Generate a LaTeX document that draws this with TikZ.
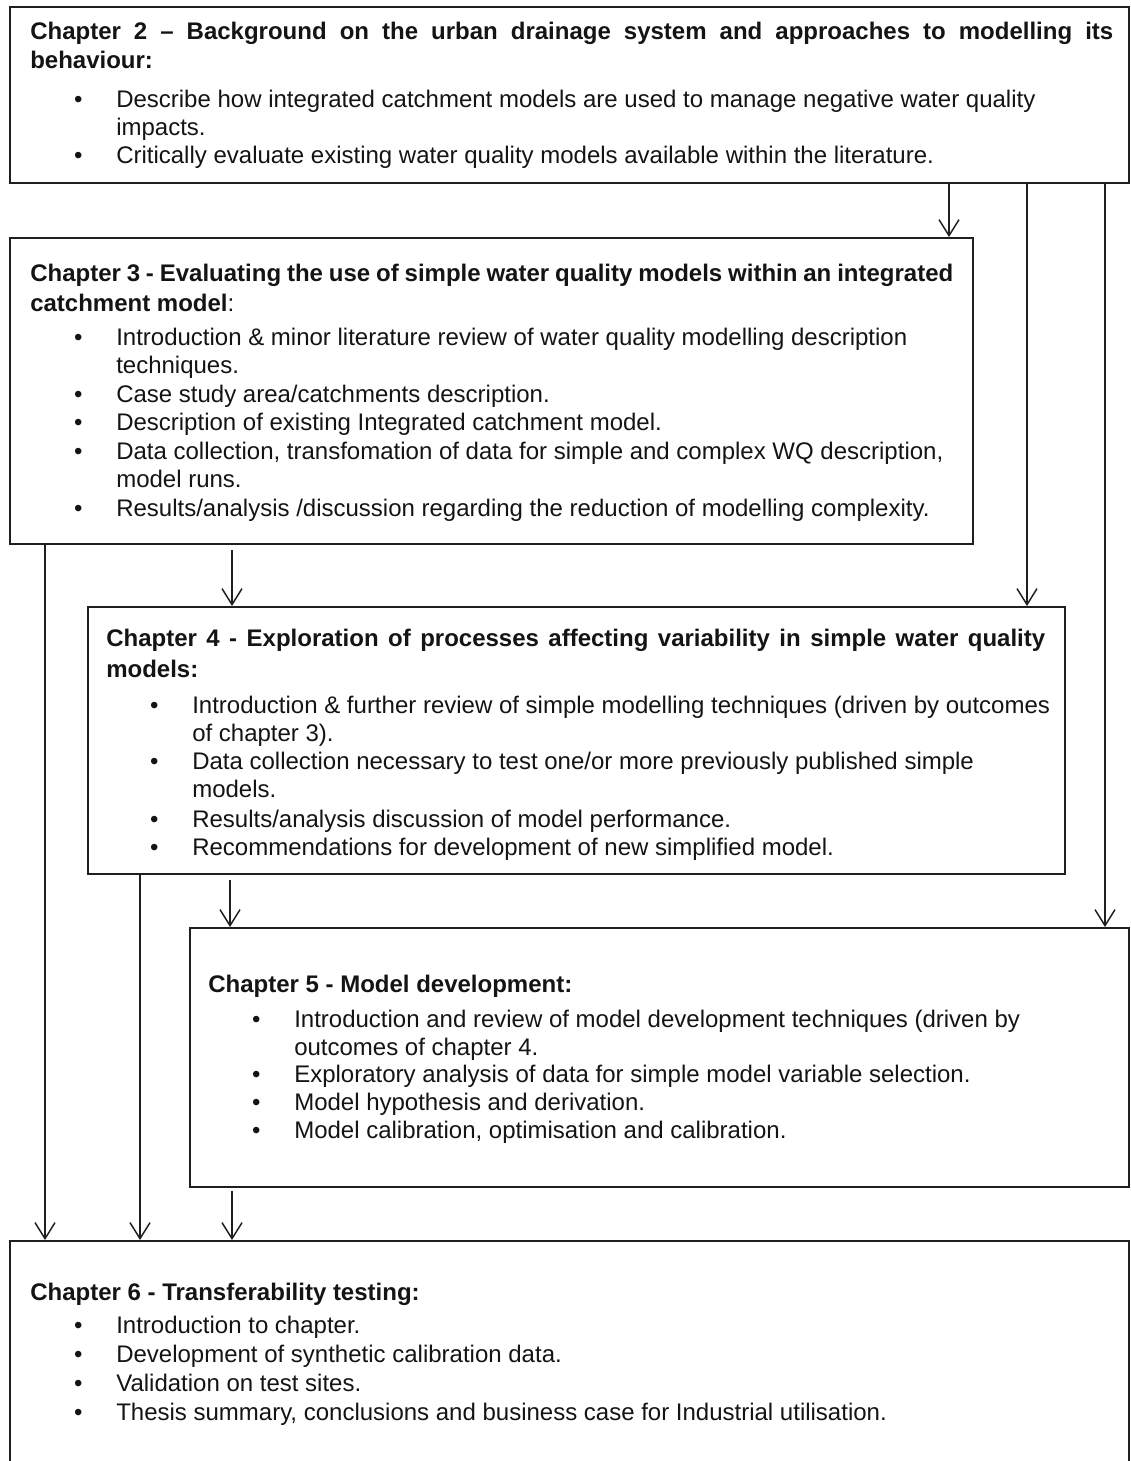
\documentclass[tikz,border=0pt]{standalone}
\usepackage{fontspec}
\setmainfont{Liberation Sans}
\usetikzlibrary{arrows.meta,fit}
\newdimen\px \px=0.75pt
\newcommand{\bul}{\hspace*{48\px}\makebox[0pt]{\textbullet}\hspace*{38\px}}
\newcommand{\ind}{\hspace*{86\px}}
\newcommand{\ttl}[1]{{\bfseries #1}}
\newcommand{\jttl}[2]{\makebox[#1\px][s]{\bfseries #2}}
\newcommand{\fl}{\rule{0pt}{15pt}}
\tikzset{
  box/.style={draw=black!88, line width=1.5pt, inner sep=0pt},
  txt/.style={inner sep=0pt, align=left, anchor=north west, text=black!92},
  arr/.style={draw=black!88, line width=1.1pt,
    -{Straight Barb[length=12pt,width=15pt,line width=1.1pt]}},
}
\begin{document}
\begin{tikzpicture}[x=0.75pt,y=-0.75pt]
\useasboundingbox (0,0) rectangle (1131,1461);
\fill[white] (0,0) rectangle (1131,1461);

% boxes
\node[box, fit={(10,7) (1129,183)}] (c2) {};
\node[box, fit={(10,238) (973,544)}] (c3) {};
\node[box, fit={(88,607) (1065,874)}] (c4) {};
\node[box, fit={(190,928) (1129,1187)}] (c5) {};
\node[box, fit={(10,1241) (1129,1480)}] (c6) {};

% texts
\node[txt, font=\fontsize{18pt}{21pt}\selectfont] (t2) at (30,19) {%
\fl\jttl{1083}{Chapter 2 – Background on the urban drainage system and approaches to modelling its}\\[0.75pt]
\ttl{behaviour:}\\[8.25pt]
\bul Describe how integrated catchment models are used to manage negative water quality\\
\ind impacts.\\
\bul Critically evaluate existing water quality models available within the literature.};

\node[txt, font=\fontsize{18pt}{21.4pt}\selectfont] (t3) at (30,261) {%
\fl\jttl{923}{Chapter 3 - Evaluating the use of simple water quality models within an integrated}\\[1.1pt]
\ttl{catchment model}:\\[4.1pt]
\bul Introduction \& minor literature review of water quality modelling description\\
\ind techniques.\\
\bul Case study area/catchments description.\\
\bul Description of existing Integrated catchment model.\\
\bul Data collection, transfomation of data for simple and complex WQ description,\\
\ind model runs.\\
\bul Results/analysis /discussion regarding the reduction of modelling complexity.};

\node[txt, font=\fontsize{18pt}{21pt}\selectfont] (t4) at (106,626) {%
\fl\jttl{939}{Chapter 4 - Exploration of processes affecting variability in simple water quality}\\[2.25pt]
\ttl{models:}\\[6pt]
\bul Introduction \& further review of simple modelling techniques (driven by outcomes\\
\ind of chapter 3).\\
\bul Data collection necessary to test one/or more previously published simple\\
\ind models.\\[1.5pt]
\bul Results/analysis discussion of model performance.\\
\bul Recommendations for development of new simplified model.};

\node[txt, font=\fontsize{18pt}{20.85pt}\selectfont] (t5) at (208,972) {%
\fl\ttl{Chapter 5 - Model development:}\\[5.4pt]
\bul Introduction and review of model development techniques (driven by\\
\ind outcomes of chapter 4.\\
\bul Exploratory analysis of data for simple model variable selection.\\
\bul Model hypothesis and derivation.\\
\bul Model calibration, optimisation and calibration.};

\node[txt, font=\fontsize{18pt}{21.75pt}\selectfont] (t6) at (30,1280) {%
\fl\ttl{Chapter 6 - Transferability testing:}\\[3pt]
\bul Introduction to chapter.\\
\bul Development of synthetic calibration data.\\
\bul Validation on test sites.\\
\bul Thesis summary, conclusions and business case for Industrial utilisation.};

% arrow columns
\coordinate (xa) at (949,0);
\coordinate (xb) at (1027,0);
\coordinate (xc) at (1105,0);
\coordinate (xd) at (45,0);
\coordinate (xe) at (232,0);
\coordinate (xf) at (140,0);
\coordinate (xg) at (230,0);
\coordinate (xh) at (232,0);

\draw[arr] (c2.south -| xa) -- (c3.north -| xa);
\draw[arr] (c2.south -| xb) -- (c4.north -| xb);
\draw[arr] (c2.south -| xc) -- (c5.north -| xc);
\draw[arr] (c3.south -| xd) -- (c6.north -| xd);
\draw[arr, shorten <=4pt] (c3.south -| xe) -- (c4.north -| xe);
\draw[arr] (c4.south -| xf) -- (c6.north -| xf);
\draw[arr, shorten <=4pt] (c4.south -| xg) -- (c5.north -| xg);
\draw[arr, shorten <=2pt] (c5.south -| xh) -- (c6.north -| xh);
\end{tikzpicture}
\end{document}
